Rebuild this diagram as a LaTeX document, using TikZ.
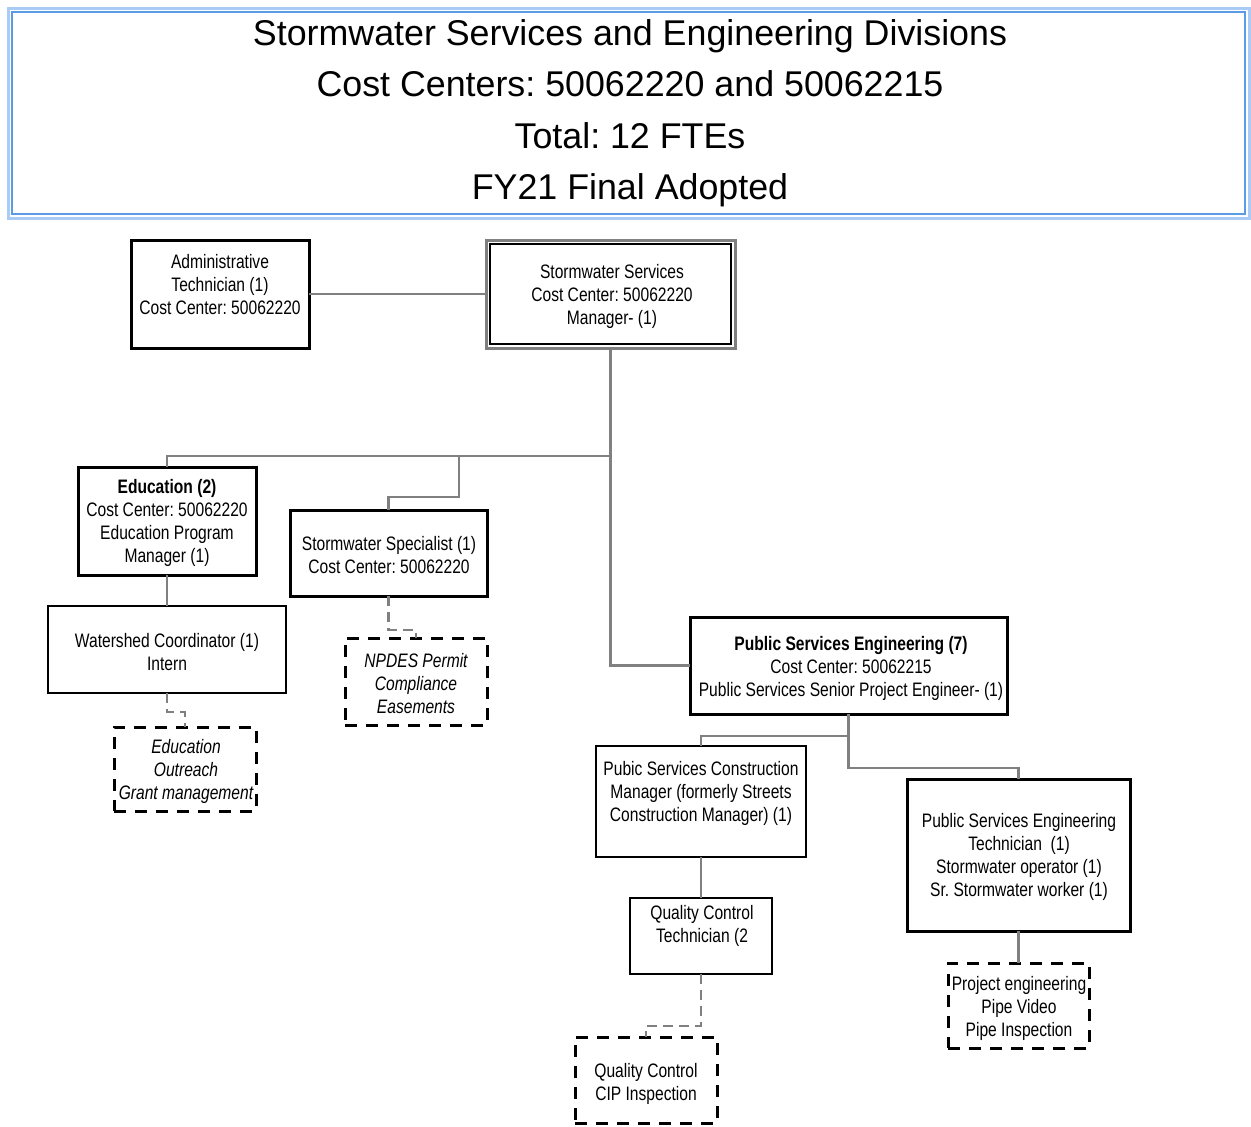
\documentclass[tikz,border=0pt]{standalone}
\usepackage{fontspec}
\setmainfont{Liberation Sans}
\newfontfamily\nf[FakeStretch=0.80]{Liberation Sans}
\definecolor{conngray}{HTML}{808080}
\definecolor{titleblue}{HTML}{5B9BE6}
\definecolor{titlelight}{HTML}{A9CBF5}
\frenchspacing
\begin{document}
\begin{tikzpicture}[x=1pt,y=-1pt,
  box/.style={draw=black,line width=3pt,inner sep=0pt,outer sep=0pt,fill=white},
  tbox/.style={draw=black,line width=2pt,inner sep=0pt,outer sep=0pt,fill=white},
  dbox/.style={draw=black,line width=3pt,dash pattern=on 12pt off 9pt,inner sep=0pt,outer sep=0pt},
  txt/.style={align=center,inner sep=0pt,font=\nf\fontsize{19.5}{23}\selectfont},
  conn/.style={draw=conngray,line width=2.5pt},
  dconn/.style={draw=conngray,line width=2.5pt,dash pattern=on 10pt off 6pt}]
\useasboundingbox (0,0) rectangle (1251,1127);
% title
\node[draw=titlelight,line width=3pt,minimum width=1241pt,minimum height=210pt,inner sep=0pt] (title) at (628.5,113) {};
\node[draw=titleblue,line width=1.2pt,minimum width=1233pt,minimum height=202pt,inner sep=0pt] (titlein) at (628.5,113) {};
\node[align=center,inner sep=0pt,font=\fontsize{35.8}{51.5}\selectfont] (titletxt) at (630,113) {Stormwater Services and Engineering Divisions\\Cost Centers: 50062220 and 50062215\\Total: 12 FTEs\\FY21 Final Adopted};

% boxes
\node[box,minimum width=178pt,minimum height=108pt] (admin) at (220,294) {};
\node[draw=conngray,line width=3pt,inner sep=0pt,outer sep=0pt,minimum width=249pt,minimum height=108pt] (ss) at (610.5,294) {};
\node[draw=black,line width=1.5pt,inner sep=0pt,minimum width=241pt,minimum height=100pt] (ssin) at (610.5,294) {};
\node[box,minimum width=178pt,minimum height=108pt] (edu) at (167,521) {};
\node[tbox,minimum width=238pt,minimum height=87pt] (water) at (167,649.5) {};
\node[dbox,minimum width=142pt,minimum height=84pt] (edudash) at (185,769) {};
\node[box,minimum width=197pt,minimum height=86pt] (spec) at (388.5,553) {};
\node[dbox,minimum width=142pt,minimum height=87pt] (npdes) at (416,681.5) {};
\node[box,minimum width=317pt,minimum height=97pt] (pse) at (848.5,665.5) {};
\node[tbox,minimum width=210pt,minimum height=111pt] (cons) at (701,801.5) {};
\node[tbox,minimum width=142pt,minimum height=76pt] (qct) at (701,936) {};
\node[dbox,minimum width=142pt,minimum height=86pt] (qcdash) at (646,1080) {};
\node[box,minimum width=223pt,minimum height=152pt] (tech) at (1018.5,855) {};
\node[dbox,minimum width=141pt,minimum height=85pt] (proj) at (1018.5,1005.5) {};

% connectors
\coordinate (j0) at (610.5,456);
\coordinate (j1) at (459,456);
\coordinate (j2) at (848.5,736);
\draw[conn] (admin.east) -- (ss.west);
\draw[conn] (ss.south) -- (j0) -| (edu.north);
\draw[conn] (j1) -- (459,497) -| (spec.north);
\draw[conn] (ss.south) |- (pse.west);
\draw[conn] (edu.south) -- (water.north);
\draw[dconn] (water.south) -- ++(0,19) -| (edudash.north);
\draw[dconn] (spec.south) -- ++(0,34) -| (npdes.north);
\draw[conn] (pse.south) -- ++(0,54) -| (tech.north);
\draw[conn] (j2) -| (cons.north);
\draw[conn] (cons.south) -- (qct.north);
\draw[dconn] (qct.south) -- ++(0,52) -| (qcdash.north);
\draw[conn] (tech.south) -- (proj.north);

% texts
\node[txt] (admint) at (220,285) {Administrative\\Technician (1)\\Cost Center: 50062220};
\node[txt] (sst) at (612,296) {Stormwater Services\\Cost Center: 50062220\\Manager- (1)};
\node[txt] (edut) at (167,523) {\textbf{Education (2)}\\Cost Center: 50062220\\Education Program\\Manager (1)};
\node[txt] (watert) at (167,652) {Watershed Coordinator (1)\\Intern};
\node[txt] (edudasht) at (186,771) {\itshape Education\\\itshape Outreach\\\itshape Grant management};
\node[txt] (spect) at (389,555) {Stormwater Specialist (1)\\Cost Center: 50062220};
\node[txt] (npdest) at (416,684) {\itshape NPDES Permit\\\itshape Compliance\\\itshape Easements};
\node[txt] (pset) at (851,668) {\textbf{Public Services Engineering (7)}\\Cost Center: 50062215\\Public Services Senior Project Engineer- (1)};
\node[txt] (const) at (701,793) {Pubic Services Construction\\Manager (formerly Streets\\Construction Manager) (1)};
\node[txt] (qctt) at (702,926) {Quality Control\\Technician (2};
\node[txt] (qcdasht) at (646,1084) {Quality Control\\CIP Inspection};
\node[txt] (techt) at (1019,857) {Public Services Engineering\\Technician \ (1)\\Stormwater operator (1)\\Sr. Stormwater worker (1)};
\node[txt] (projt) at (1019,1008) {Project engineering\\Pipe Video\\Pipe Inspection};
\end{tikzpicture}
\end{document}
